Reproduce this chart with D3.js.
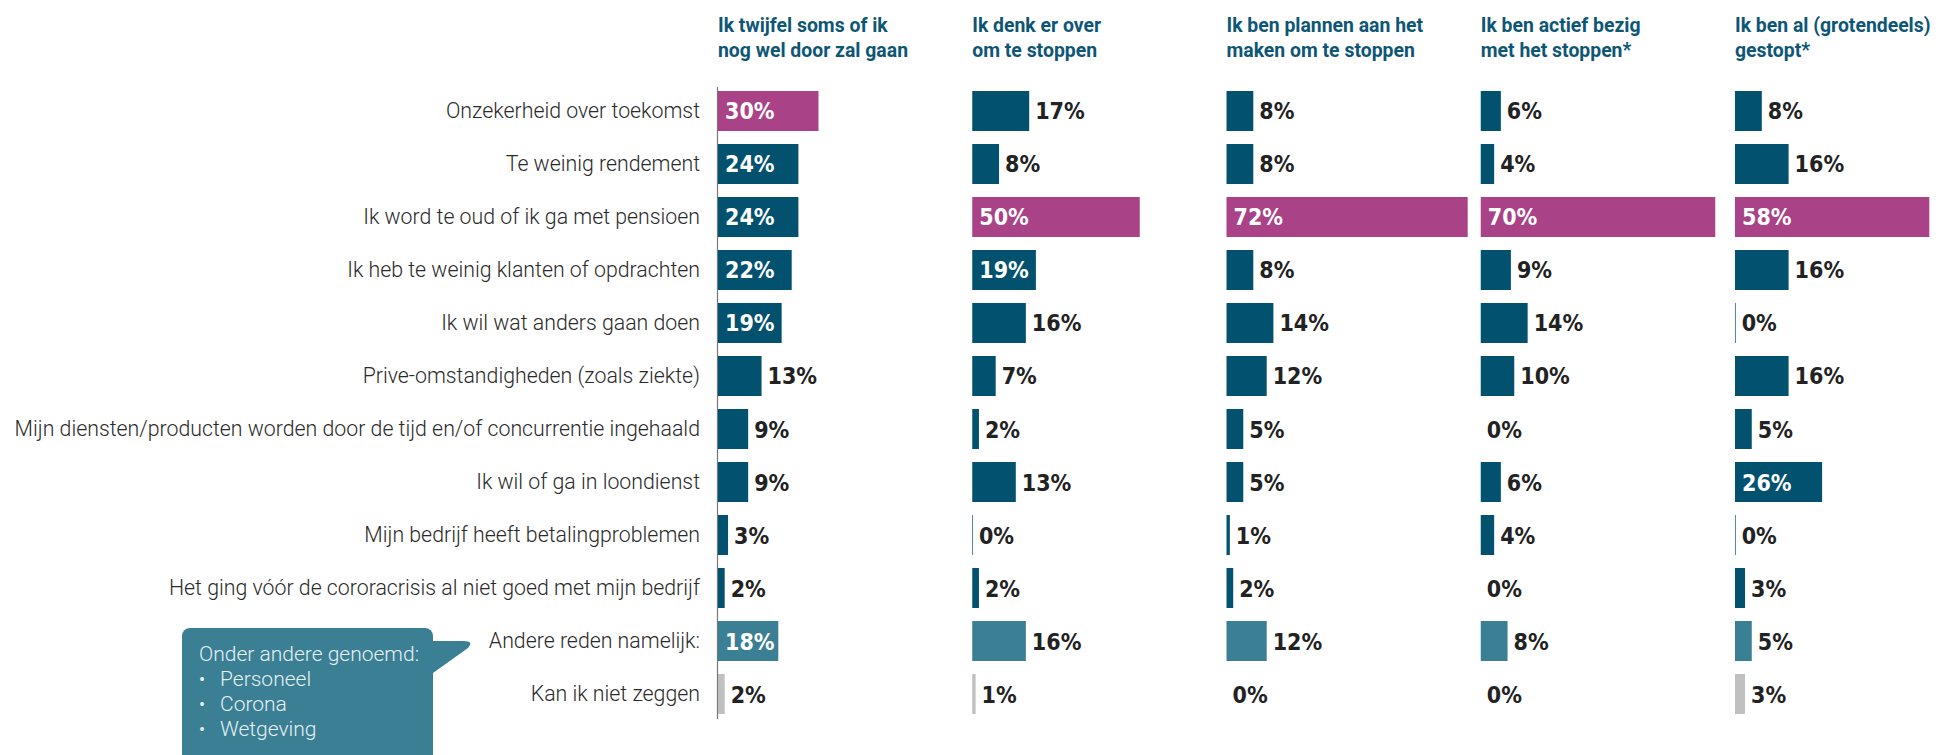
<!DOCTYPE html>
<html>
<head>
<meta charset="utf-8">
<script src="https://cdn.jsdelivr.net/npm/d3@7"></script>
<style>
  body { margin: 0; background: #fff; }
  svg { display: block; }
</style>
</head>
<body>
<div id="chart"></div>
<script>
// Reasons (rows)
const reasons = [
  "Onzekerheid over toekomst",
  "Te weinig rendement",
  "Ik word te oud of ik ga met pensioen",
  "Ik heb te weinig klanten of opdrachten",
  "Ik wil wat anders gaan doen",
  "Prive-omstandigheden (zoals ziekte)",
  "Mijn diensten/producten worden door de tijd en/of concurrentie ingehaald",
  "Ik wil of ga in loondienst",
  "Mijn bedrijf heeft betalingproblemen",
  "Het ging vóór de cororacrisis al niet goed met mijn bedrijf",
  "Andere reden namelijk:",
  "Kan ik niet zeggen"
];

// Column headers (two lines each)
const headers = [
  ["Ik twijfel soms of ik", "nog wel door zal gaan"],
  ["Ik denk er over", "om te stoppen"],
  ["Ik ben plannen aan het", "maken om te stoppen"],
  ["Ik ben actief bezig", "met het stoppen*"],
  ["Ik ben al (grotendeels)", "gestopt*"]
];

// Percentages per column, same order as reasons
const twijfel = [30, 24, 24, 22, 19, 13, 9, 9, 3, 2, 18, 2];
const denken  = [17, 8, 50, 19, 16, 7, 2, 13, 0.2, 2, 16, 1];
const plannen = [8, 8, 72, 8, 14, 12, 5, 5, 1, 2, 12, 0];
const actief  = [6, 4, 70, 9, 14, 10, 0, 6, 4, 0, 8, 0];
const gestopt = [8, 16, 58, 16, 0.2, 16, 5, 26, 0.2, 3, 5, 3];

const series = [twijfel, denken, plannen, actief, gestopt];

// Callout text
const calloutTitle = "Onder andere genoemd:";
const calloutItems = ["Personeel", "Corona", "Wetgeving"];

const width = 1953, height = 755;
const colors = {
  main: "#02526f",
  top: "#a94287",
  other: "#3a7f94",
  unknown: "#c0c0c0"
};

const svg = d3.select("#chart")
  .append("svg")
  .attr("width", width)
  .attr("height", height)
  .style("font-family", "Roboto, 'Noto Sans', sans-serif");

// Row positions
const y = d3.scaleBand()
  .domain(reasons)
  .range([84.5, 720.5])
  .paddingInner(0.2453)
  .paddingOuter(0.1226);

// Column positions
const col = d3.scaleBand()
  .domain(d3.range(headers.length))
  .range([718, 718 + 254.25 * headers.length]);

// Bar length
const x = d3.scaleLinear().domain([0, 100]).range([0, 335]);

// Row labels
svg.append("g")
  .selectAll("text")
  .data(reasons)
  .join("text")
  .attr("x", 700)
  .attr("y", d => y(d) + y.bandwidth() / 2 + 7)
  .attr("text-anchor", "end")
  .style("font-size", "21.3px")
  .style("font-weight", 300)
  .style("fill", "#2a2a2a")
  .text(d => d);

// Axis line on first column
svg.append("line")
  .attr("x1", col(0) - 0.5)
  .attr("x2", col(0) - 0.5)
  .attr("y1", 87)
  .attr("y2", 719)
  .attr("stroke", "#777")
  .attr("stroke-width", 1.2);

function barColor(v, i, values) {
  if (i === reasons.length - 1) return colors.unknown;
  if (i === reasons.length - 2) return colors.other;
  if (v === d3.max(values)) return colors.top;
  return colors.main;
}

series.forEach((values, c) => {
  const x0 = col(c);
  const g = svg.append("g");

  // Header
  g.append("text")
    .attr("x", x0)
    .attr("y", 32)
    .style("font-size", "19.4px")
    .style("font-weight", 700)
    .style("fill", "#0e5675")
    .selectAll("tspan")
    .data(headers[c])
    .join("tspan")
    .attr("x", x0)
    .attr("dy", (d, i) => i === 0 ? 0 : 25)
    .text(d => d);

  // Bars
  g.selectAll("rect")
    .data(values)
    .join("rect")
    .attr("x", x0)
    .attr("y", (d, i) => y(reasons[i]))
    .attr("width", d => x(d))
    .attr("height", y.bandwidth())
    .attr("fill", (d, i) => barColor(d, i, values));

  // Value labels
  g.selectAll("text.value")
    .data(values)
    .join("text")
    .attr("class", "value")
    .attr("x", d => d >= 18 ? x0 + 7 : x0 + x(d) + 6)
    .attr("y", (d, i) => y(reasons[i]) + y.bandwidth() / 2 + 8.5)
    .style("font-family", "'DejaVu Sans Condensed', 'DejaVu Sans', sans-serif")
    .style("font-stretch", "condensed")
    .style("font-size", "23px")
    .style("font-weight", 700)
    .style("fill", d => d >= 18 ? "#fff" : "#222")
    .text(d => Math.round(d) + "%");
});

// Callout box with pointer
const callout = svg.append("g");
callout.append("rect")
  .attr("x", 182)
  .attr("y", 628)
  .attr("width", 251)
  .attr("height", 150)
  .attr("rx", 8)
  .attr("fill", colors.other);

callout.append("path")
  .attr("d", "M430,641 L464,641 Q474,641 468,648 L433,673 L430,673 Z")
  .attr("fill", colors.other);

callout.append("text")
  .attr("x", 199)
  .attr("y", 661)
  .style("font-size", "21px")
  .style("font-weight", 300)
  .style("fill", "#e6f0f3")
  .text(calloutTitle);

calloutItems.forEach((item, i) => {
  const yy = 686 + i * 25;
  callout.append("text")
    .attr("x", 199)
    .attr("y", yy)
    .style("font-size", "18px")
    .style("fill", "#e6f0f3")
    .text("•");
  callout.append("text")
    .attr("x", 220)
    .attr("y", yy)
    .style("font-size", "21px")
    .style("font-weight", 300)
    .style("fill", "#e6f0f3")
    .text(item);
});
</script>
</body>
</html>
